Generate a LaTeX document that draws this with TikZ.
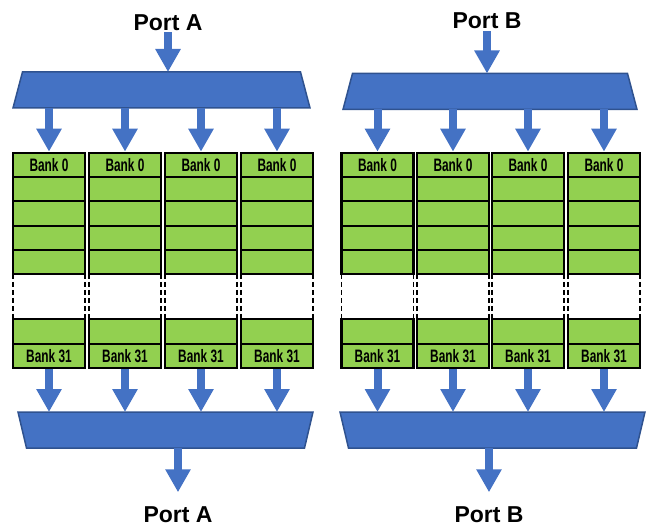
\documentclass[tikz,border=0pt]{standalone}
\usepackage{fontspec}
\setmainfont{Liberation Sans}
\newfontfamily\banknarrow[FakeStretch=0.66]{Liberation Sans}
\usetikzlibrary{arrows.meta}

\definecolor{muxblue}{HTML}{4472C4}
\definecolor{muxedge}{HTML}{2F528F}
\definecolor{bankgreen}{HTML}{92D050}

\tikzset{
  muxbox/.style={inner sep=0pt, outer sep=0pt, minimum height=36pt},
  muxshape/.style={fill=muxblue, draw=muxedge, line width=1.5pt},
  blockarrow/.style={muxblue, line width=8pt, -{Triangle[length=23pt,width=24pt]}},
  row/.style={draw=black, fill=bankgreen, line width=2.2pt, minimum width=72pt,
    minimum height=24.5pt, inner sep=0pt},
  bankrow/.style={row, font=\banknarrow\bfseries\fontsize{18}{18}\selectfont},
  gapside/.style={line width=1.8pt, dash pattern=on 5pt off 3pt},
  portlabel/.style={font=\bfseries\fontsize{23}{23}\selectfont, inner sep=0pt}
}

\begin{document}
\begin{tikzpicture}[x=1pt,y=-1pt]
\useasboundingbox (0,0) rectangle (650,526);

% bank columns, port A side
\foreach \x [count=\i] in {49,125,201,277}{
  \node[bankrow] (b0A\i) at (\x,165) {Bank 0};
  \foreach \y [count=\j] in {189,213.5,238,262}
    \node[row] (rA\i\j) at (\x,\y) {};
  \draw[gapside] ({\x-36},274) -- ({\x-36},319);
  \draw[gapside] ({\x+36},274) -- ({\x+36},319);
  \node[row] (rA\i5) at (\x,331.5) {};
  \node[bankrow] (b31A\i) at (\x,356) {Bank 31};
}
% bank columns, port B side
\foreach \x [count=\i] in {377.5,453,528,604}{
  \node[bankrow] (b0B\i) at (\x,165) {Bank 0};
  \foreach \y [count=\j] in {189,213.5,238,262}
    \node[row] (rB\i\j) at (\x,\y) {};
  \draw[gapside] ({\x-36},274) -- ({\x-36},319);
  \draw[gapside] ({\x+36},274) -- ({\x+36},319);
  \node[row] (rB\i5) at (\x,331.5) {};
  \node[bankrow] (b31B\i) at (\x,356) {Bank 31};
}

% muxes
\node[muxbox, minimum width=297pt] (muxinA) at (161.5,90) {};
\node[muxbox, minimum width=294pt] (muxinB) at (490,91.5) {};
\node[muxbox, minimum width=295pt] (muxoutA) at (165.5,430) {};
\node[muxbox, minimum width=305pt] (muxoutB) at (492.5,430) {};
\foreach \m in {muxinA,muxinB}
  \draw[muxshape] (\m.south west) -- ([xshift=9.5pt]\m.north west)
    -- ([xshift=-9.5pt]\m.north east) -- (\m.south east) -- cycle;
\foreach \m in {muxoutA,muxoutB}
  \draw[muxshape] (\m.north west) -- (\m.north east)
    -- ([xshift=-8.5pt]\m.south east) -- ([xshift=8.5pt]\m.south west) -- cycle;

% port labels
\node[portlabel] (portAin) at (168,22.5) {Port A};
\node[portlabel] (portBin) at (487,21) {Port B};
\node[portlabel] (portAout) at (178,514.5) {Port A};
\node[portlabel] (portBout) at (489,514.5) {Port B};

% arrows
\draw[blockarrow] ([yshift=-1.5pt]portAin.south) -- (portAin.south |- muxinA.north);
\draw[blockarrow] ([yshift=-2pt]portBin.south) -- (portBin.south |- muxinB.north);
\foreach \i in {1,...,4}{
  \draw[blockarrow] (muxinA.south -| b0A\i) -- (b0A\i.north);
  \draw[blockarrow] (muxinB.south -| b0B\i) -- (b0B\i.north);
  \draw[blockarrow] (b31A\i.south) -- (b31A\i.south |- muxoutA.north);
  \draw[blockarrow] (b31B\i.south) -- (b31B\i.south |- muxoutB.north);
}
\draw[blockarrow] (muxoutA.south -| portAout) -- ([yshift=14pt]portAout.north);
\draw[blockarrow] (muxoutB.south -| portBout) -- ([yshift=14pt]portBout.north);

\end{tikzpicture}
\end{document}
